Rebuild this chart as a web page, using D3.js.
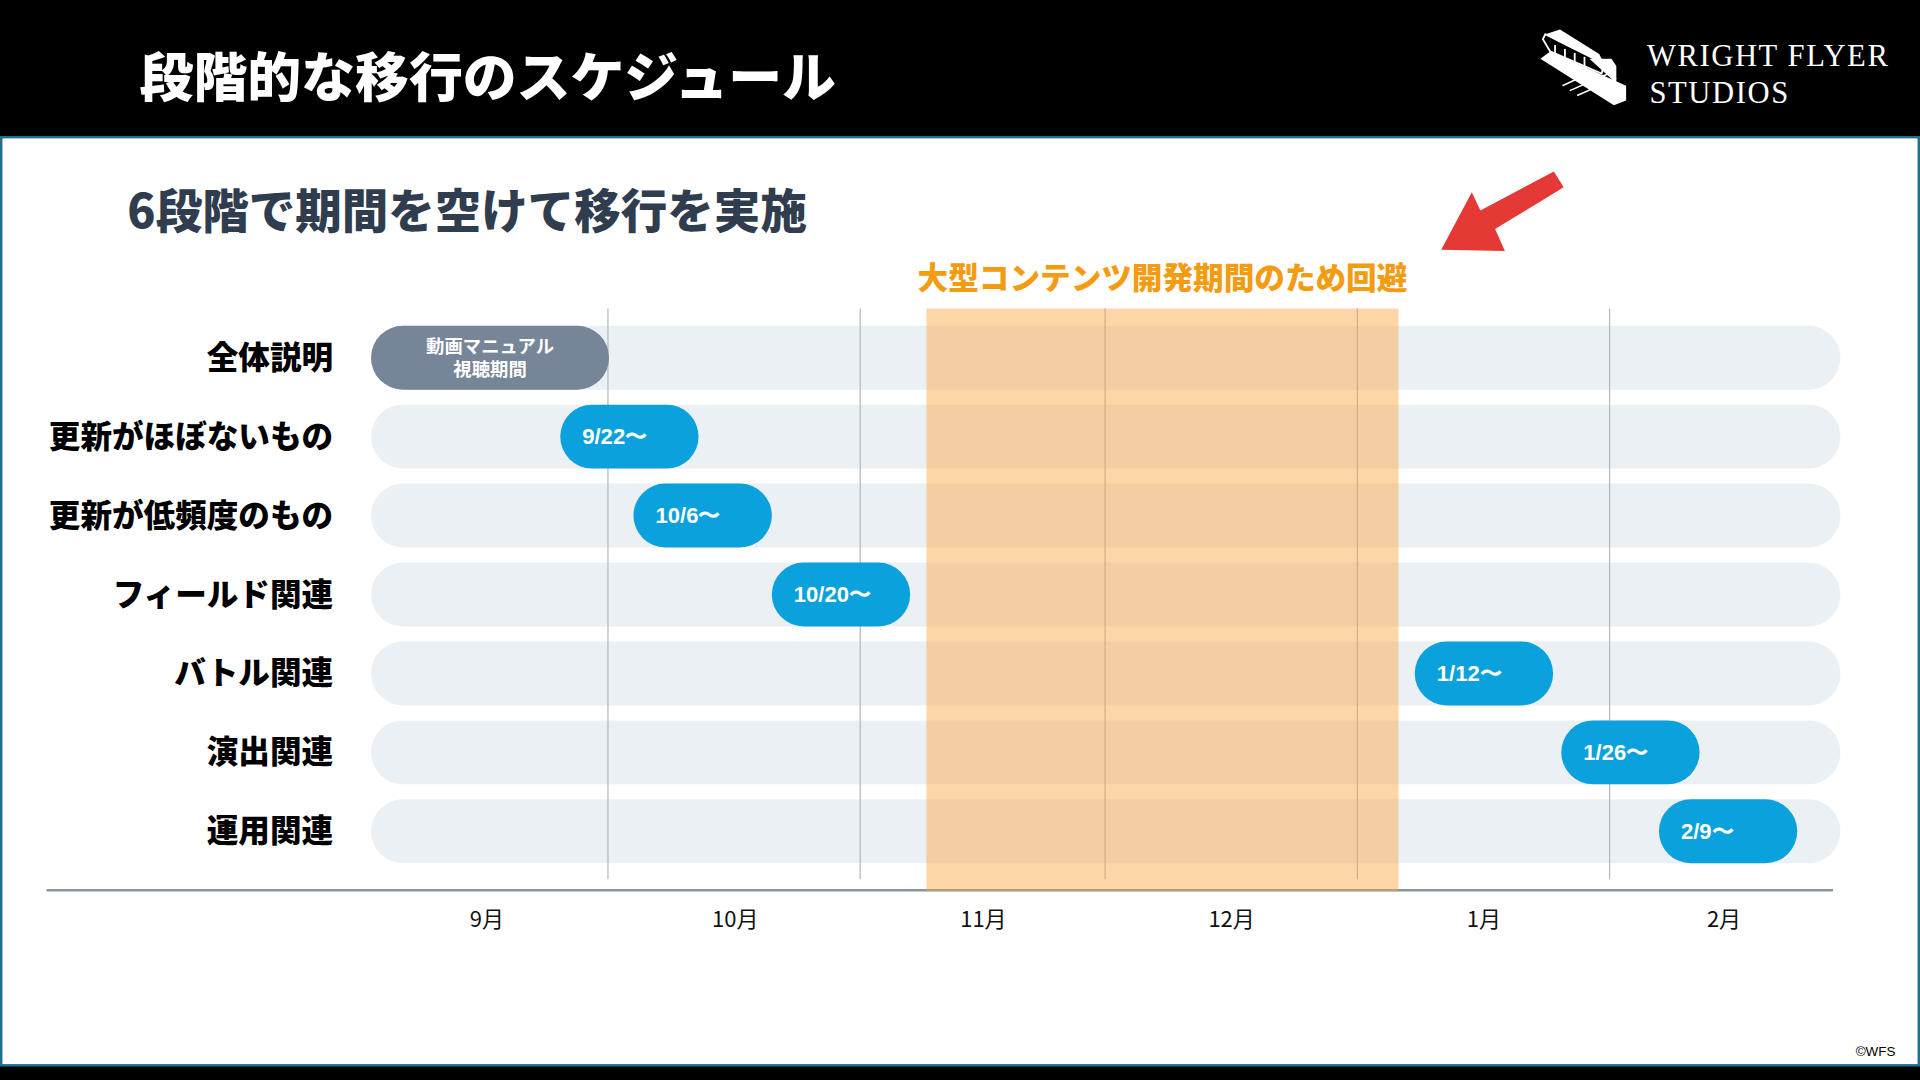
<!DOCTYPE html>
<html>
<head>
<meta charset="utf-8">
<script src="https://d3js.org/d3.v7.min.js"></script>
<style>
  body { margin: 0; background: #000; overflow: hidden; }
  svg { display: block; }
  .jp { font-family: "Noto Sans CJK JP", "Noto Sans", sans-serif; }
</style>
</head>
<body>
<svg id="chart" width="1920" height="1080" viewBox="0 0 1568 882"></svg>
<script>
// data
var categories = ["全体説明", "更新がほぼないもの", "更新が低頻度のもの", "フィールド関連", "バトル関連", "演出関連", "運用関連"];
var barLabels = ["動画マニュアル\n視聴期間", "9/22〜", "10/6〜", "10/20〜", "1/12〜", "1/26〜", "2/9〜"];
var barStarts = ["2020-09-01", "2020-09-25", "2020-10-04", "2020-10-21", "2021-01-08", "2021-01-26", "2021-02-07"];
var barEnds   = ["2020-10-01", "2020-10-12", "2020-10-21", "2020-11-07", "2021-01-25", "2021-02-12", "2021-02-24"];
var monthLabels = ["9月", "10月", "11月", "12月", "1月", "2月"];
var blockedPeriod = ["2020-11-09", "2021-01-06"];
var blockedLabel = "大型コンテンツ開発期間のため回避";

var parse = d3.timeParse("%Y-%m-%d");
var svg = d3.select("#chart");

// frame
svg.append("rect").attr("x", 0).attr("y", 0).attr("width", 1568).attr("height", 882).attr("fill", "#000");
svg.append("rect").attr("x", 1).attr("y", 112).attr("width", 1566).attr("height", 758)
    .attr("fill", "#fff").attr("stroke", "#1f6f8f").attr("stroke-width", 2);

svg.append("text").attr("class", "jp").attr("x", 114).attr("y", 79)
    .attr("font-size", 44).attr("font-weight", 900).attr("fill", "#fff")
    .text("段階的な移行のスケジュール");

// logo
var logo = svg.append("g").attr("transform", "translate(1258,24)");
logo.append("path").attr("d", "M4,4 L16,0 L48,20 L52,28 L20,12 Z").attr("fill", "#fff");
logo.append("path").attr("d", "M2,8 L4,4 L20,12 L52,28 L50,36 L8,18 Z").attr("fill", "none").attr("stroke", "#fff").attr("stroke-width", 1.5);
logo.append("path").attr("d", "M0,24 L8,18 L70,46 L70,58 L60,62 Z").attr("fill", "#fff");
logo.append("path").attr("d", "M40,24 L58,24 L62,30 L62,44 Z").attr("fill", "#fff");
logo.append("path").attr("d", "M18,46 L44,34 M24,50 L56,36 M30,54 L62,40").attr("stroke", "#fff").attr("stroke-width", 1.2);
[12, 20, 28, 36].forEach(function(px) {
  logo.append("line").attr("x1", px).attr("y1", 8 + px * 0.4).attr("x2", px).attr("y2", 22 + px * 0.4)
      .attr("stroke", "#fff").attr("stroke-width", 1.5);
});
svg.append("text").attr("x", 1345).attr("y", 54).attr("font-family", "Liberation Serif, serif")
    .attr("font-size", 25).attr("letter-spacing", 1.3).attr("fill", "#fff").text("WRIGHT FLYER");
svg.append("text").attr("x", 1347).attr("y", 84).attr("font-family", "Liberation Serif, serif")
    .attr("font-size", 25).attr("letter-spacing", 1.3).attr("fill", "#fff").text("STUDIOS");

svg.append("text").attr("class", "jp").attr("x", 104).attr("y", 186)
    .attr("font-size", 38).attr("font-weight", 900).attr("fill", "#2f3d4f")
    .text("6段階で期間を空けて移行を実施");

// scales
var x = d3.scaleTime()
    .domain([parse("2020-09-01"), parse("2021-03-01")])
    .range([298, 1501]);
var y = d3.scaleBand().domain(categories).range([266, 705]).paddingInner(0.19).paddingOuter(0);
var bh = y.bandwidth();
var months = d3.timeMonth.range(parse("2020-09-01"), parse("2021-03-01"));
var rowStart = x(parse("2020-09-01")) + 5;

// row backgrounds
svg.append("g").selectAll("rect").data(categories).join("rect")
    .attr("x", rowStart).attr("width", x(parse("2021-03-01")) + 2 - rowStart)
    .attr("y", function(d) { return y(d); }).attr("height", bh)
    .attr("rx", bh / 2).attr("fill", "#ebf0f4");

// month gridlines
svg.append("g").selectAll("line").data(months.slice(1)).join("line")
    .attr("x1", function(d) { return Math.round(x(d)) - 0.5; })
    .attr("x2", function(d) { return Math.round(x(d)) - 0.5; })
    .attr("y1", 252).attr("y2", 718)
    .attr("stroke", "#b4b8bc").attr("stroke-width", 1);

// axis line
svg.append("line").attr("x1", 38).attr("x2", 1497).attr("y1", 727).attr("y2", 727)
    .attr("stroke", "#8796a2").attr("stroke-width", 2);

// blocked period
svg.append("rect")
    .attr("x", x(parse(blockedPeriod[0]))).attr("width", x(parse(blockedPeriod[1])) - x(parse(blockedPeriod[0])))
    .attr("y", 252).attr("height", 476)
    .attr("fill", "rgb(251,164,62)").attr("fill-opacity", 0.45);
svg.append("text").attr("class", "jp")
    .attr("x", (x(parse(blockedPeriod[0])) + x(parse(blockedPeriod[1]))) / 2).attr("y", 236)
    .attr("text-anchor", "middle").attr("font-size", 25).attr("font-weight", 900).attr("fill", "#f39c12")
    .text(blockedLabel);

// red arrow
svg.append("path")
    .attr("d", "M1177,204 L1202,157 L1209,172 L1269,140 L1277,153 L1221,187 L1229,205 Z")
    .attr("fill", "#e53935");

// bars
var bars = categories.map(function(c, i) {
  return { cat: c, label: barLabels[i], start: parse(barStarts[i]), end: parse(barEnds[i]), idx: i };
});
function barX(d) { return d.idx === 0 ? rowStart : x(d.start); }
svg.append("g").selectAll("rect").data(bars).join("rect")
    .attr("x", barX)
    .attr("width", function(d) { return x(d.end) - barX(d); })
    .attr("y", function(d) { return y(d.cat); }).attr("height", bh)
    .attr("rx", bh / 2)
    .attr("fill", function(d) { return d.idx === 0 ? "#768597" : "#0aa1dd"; });

// bar labels
var bl = svg.append("g").selectAll("text").data(bars).join("text")
    .attr("font-family", function(d) { return d.idx === 0 ? "Noto Sans CJK JP, sans-serif" : "Liberation Sans, Arial, sans-serif"; })
    .attr("font-weight", 700).attr("fill", "#fff")
    .attr("font-size", function(d) { return d.idx === 0 ? 15 : 18; })
    .attr("text-anchor", function(d) { return d.idx === 0 ? "middle" : "start"; })
    .attr("x", function(d) { return d.idx === 0 ? (barX(d) + x(d.end)) / 2 : x(d.start) + 18; })
    .attr("y", function(d) { return y(d.cat) + bh / 2 + (d.idx === 0 ? -4 : 6); });
bl.each(function(d) {
  var lines = d.label.split("\n");
  var t = d3.select(this);
  lines.forEach(function(l, k) {
    t.append("tspan").attr("x", t.attr("x")).attr("dy", k === 0 ? 0 : 19).text(l);
  });
});

// category labels
svg.append("g").selectAll("text").data(categories).join("text")
    .attr("class", "jp").attr("x", 272)
    .attr("y", function(d) { return y(d) + bh / 2 + 9; })
    .attr("text-anchor", "end").attr("font-size", 25.8).attr("font-weight", 900).attr("fill", "#000")
    .text(function(d) { return d; });

// month labels
svg.append("g").selectAll("text").data(months).join("text")
    .attr("class", "jp")
    .attr("x", function(d) { return (x(d) + x(d3.timeMonth.offset(d, 1))) / 2; })
    .attr("y", 757).attr("text-anchor", "middle").attr("font-size", 18).attr("fill", "#111")
    .text(function(d, i) { return monthLabels[i]; });

svg.append("text").attr("x", 1548).attr("y", 862).attr("text-anchor", "end")
    .attr("font-family", "Liberation Sans, Arial, sans-serif").attr("font-size", 11).attr("fill", "#000")
    .text("©WFS");
</script>
</body>
</html>
